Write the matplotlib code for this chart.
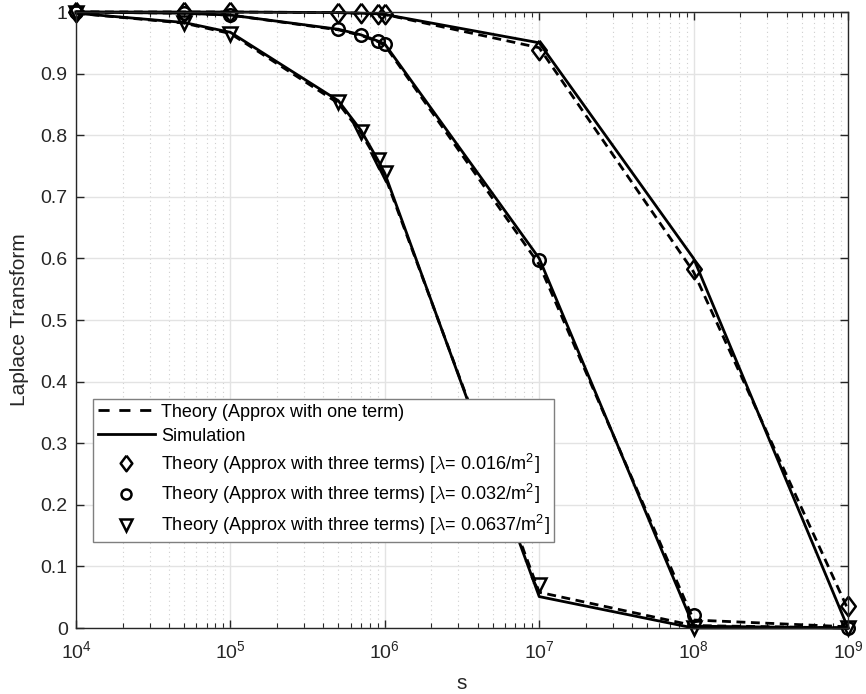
import numpy as np
import matplotlib
matplotlib.use("Agg")
import matplotlib.pyplot as plt
from matplotlib.ticker import LogLocator, NullFormatter

plt.rcParams['font.family'] = ['Liberation Sans', 'DejaVu Sans']
plt.rcParams['mathtext.fontset'] = 'cm'
plt.rcParams['mathtext.default'] = 'it'

# x values (s)
s = [1e4, 5e4, 1e5, 5e5, 7e5, 9e5, 1e6, 1e7, 1e8, 1e9]

# lambda = 0.016
three_016 = [1.0, 1.0, 1.0, 0.999, 0.998, 0.997, 0.996, 0.939, 0.582, 0.035]
one_016 = [1.0, 1.0, 1.0, 0.999, 0.998, 0.997, 0.996, 0.942, 0.578, 0.03]
sim_016 = [1.0, 1.0, 1.0, 0.999, 0.998, 0.997, 0.996, 0.950, 0.600, 0.0]

# lambda = 0.032
three_032 = [1.0, 0.998, 0.995, 0.972, 0.963, 0.953, 0.948, 0.598, 0.021, 0.0]
one_032 = [1.0, 0.998, 0.995, 0.971, 0.962, 0.952, 0.946, 0.590, 0.013, 0.002]
sim_032 = [1.0, 0.998, 0.995, 0.972, 0.963, 0.953, 0.948, 0.600, 0.003, 0.0]

# lambda = 0.0637
three_0637 = [0.998, 0.982, 0.965, 0.854, 0.806, 0.760, 0.738, 0.070, 0.0, 0.0]
one_0637 = [0.998, 0.982, 0.965, 0.852, 0.804, 0.757, 0.734, 0.058, 0.004, 0.0]
sim_0637 = [0.998, 0.983, 0.967, 0.856, 0.808, 0.760, 0.738, 0.051, 0.0, 0.0]

yticks = [0, 0.1, 0.2, 0.3, 0.4, 0.5, 0.6, 0.7, 0.8, 0.9, 1.0]
yticklabels = ['0', '0.1', '0.2', '0.3', '0.4', '0.5', '0.6', '0.7', '0.8', '0.9', '1']

fig = plt.figure(figsize=(8.66, 6.94), dpi=100)
ax = fig.add_axes([0.0878, 0.0951, 0.8914, 0.8876])

lw = 2.0
dash = (3.2, 2)

# MATLAB-like diamond (taller than wide)
diamond = [(0, 1), (0.75, 0), (0, -1), (-0.75, 0), (0, 1)]

one_lines = [one_016, one_032, one_0637]
sim_lines = [sim_016, sim_032, sim_0637]
for y in one_lines:
    ax.plot(s, y, color='k', lw=lw, linestyle=(0, dash), clip_on=False)
for y in sim_lines:
    ax.plot(s, y, color='k', lw=lw, linestyle='-', clip_on=False)

mk = dict(color='k', linestyle='none', mfc='none', mew=1.8, clip_on=False)
h_d, = ax.plot(s, three_016, marker=diamond, ms=14, **mk)
h_o, = ax.plot(s, three_032, marker='o', ms=9, **mk)
h_v, = ax.plot(s, three_0637, marker='v', ms=10, **mk)

ax.set_xscale('log')
ax.set_xlim(1e4, 1e9)
ax.set_ylim(0, 1)
ax.set_yticks(yticks)
ax.set_yticklabels(yticklabels)
ax.xaxis.set_major_locator(LogLocator(base=10, numticks=10))
ax.xaxis.set_minor_locator(LogLocator(base=10, subs=np.arange(2, 10), numticks=50))
ax.xaxis.set_minor_formatter(NullFormatter())

ax.grid(which='major', color='#e3e3e3', lw=1.0, linestyle='-')
ax.grid(which='minor', axis='x', color='#cfcfcf', lw=0.8, linestyle=(0, (1, 3)))
ax.set_axisbelow(True)

ax.tick_params(which='both', direction='in', top=True, right=True, labelsize=14, colors='#262626')
ax.tick_params(which='major', length=6, width=1.0)
ax.tick_params(which='minor', length=3.5, width=0.8)
ax.tick_params(axis='x', which='major', pad=9)
ax.tick_params(axis='y', which='major', pad=6)
for sp in ax.spines.values():
    sp.set_color('#262626')
    sp.set_linewidth(1.0)

ax.set_xlabel('s', fontsize=15, color='#262626', labelpad=8)
ax.set_ylabel('Laplace Transform', fontsize=15, color='#262626', labelpad=8)

# legend-only handles
h1, = ax.plot([], [], color='k', lw=lw, linestyle=(0, (4, 3.5)))
h2, = ax.plot([], [], color='k', lw=lw, linestyle='-')
labels = ['Theory (Approx with one term)',
          'Simulation',
          r'Theory (Approx with three terms) [$\lambda$= 0.016/m$^{\mathregular{2}}$]',
          r'Theory (Approx with three terms) [$\lambda$= 0.032/m$^{\mathregular{2}}$]',
          r'Theory (Approx with three terms) [$\lambda$= 0.0637/m$^{\mathregular{2}}$]']
leg = ax.legend([h1, h2, h_d, h_o, h_v], labels, loc='lower left',
                bbox_to_anchor=(0.022, 0.14), fontsize=13, frameon=True,
                fancybox=False, framealpha=1, edgecolor='#7f7f7f',
                handlelength=3.2, handletextpad=0.3, borderpad=0.25,
                labelspacing=0.38, borderaxespad=0, markerscale=0.8)
leg.get_frame().set_linewidth(1.0)

fig.savefig('out.png', dpi=100)
